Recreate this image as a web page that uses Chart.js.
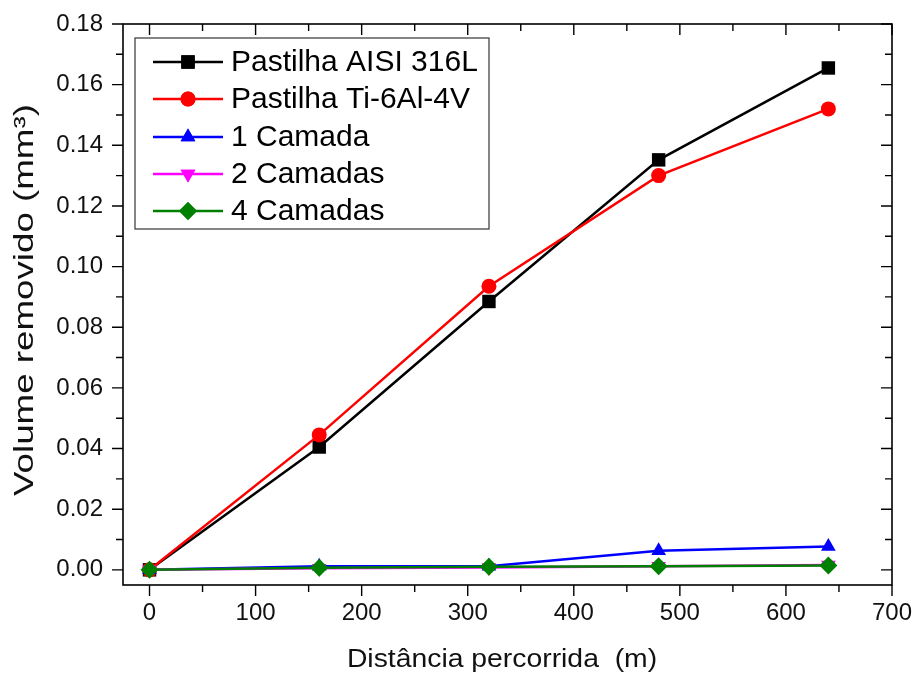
<!DOCTYPE html>
<html><head><meta charset="utf-8">
<script src="https://cdn.jsdelivr.net/npm/chart.js@4.4.1/dist/chart.umd.min.js"></script>
<style>html,body{margin:0;padding:0;background:#fff}#wrap{width:913px;height:677px;position:relative}</style>
</head><body><div id="wrap"><canvas id="c" width="913" height="677"></canvas></div>
<script>
const distances = [0, 160, 320, 480, 640];
const serieAISI = [0, 0.0405, 0.0885, 0.1352, 0.1655];
const serieTi = [0, 0.0445, 0.0935, 0.130, 0.152];
const serie1Camada = [0, 0.0012, 0.0012, 0.0063, 0.0077];
const serie2Camadas = [0, 0.0005, 0.0008, 0.0012, 0.0016];
const serie4Camadas = [0, 0.0007, 0.0010, 0.0012, 0.0014];
const seriesNames = ["Pastilha AISI 316L", "Pastilha Ti-6Al-4V", "1 Camada", "2 Camadas", "4 Camadas"];
const xTicks = [0, 100, 200, 300, 400, 500, 600, 700];
const yTicks = [0, 0.02, 0.04, 0.06, 0.08, 0.10, 0.12, 0.14, 0.16, 0.18];
const xTitle = 'Distância percorrida  (m)';
const yTitle = 'Volume removido (mm³)';

const FONT = "'Liberation Sans', Arial, sans-serif";
function pts(arr){ return distances.map((d,i)=>({x:d, y:arr[i]})); }
function ds(label, data, color, style, radius, rot, order){
  return {label, data: pts(data), borderColor: color, backgroundColor: color,
    pointStyle: style, pointRadius: radius, pointHoverRadius: radius, pointRotation: rot,
    borderWidth: 2.5, pointBorderWidth: 0, tension: 0, order};
}
const datasets = [
  ds(seriesNames[0], serieAISI, '#000000', 'rect', 9.5, 0, 5),
  ds(seriesNames[1], serieTi, '#ff0000', 'circle', 7.5, 0, 4),
  ds(seriesNames[2], serie1Camada, '#0000ff', 'triangle', 8.5, 0, 3),
  ds(seriesNames[3], serie2Camadas, '#ff00ff', 'triangle', 8.5, 180, 2),
  ds(seriesNames[4], serie4Camadas, '#008000', 'rectRot', 9, 0, 1)
];

const framePlugin = {
  id: 'frame',
  afterDraw(chart){
    const ctx = chart.ctx, a = chart.chartArea, xs = chart.scales.x, ys = chart.scales.y;
    ctx.save();
    ctx.strokeStyle = '#000'; ctx.lineWidth = 1.6;
    ctx.strokeRect(a.left, a.top, a.right - a.left, a.bottom - a.top);
    ctx.lineWidth = 1.4;
    ctx.beginPath();
    for (let v = 0; v <= 700; v += 50){
      const px = xs.getPixelForValue(v);
      const L = (v % 100 === 0) ? 11 : 7;
      ctx.moveTo(px, a.bottom); ctx.lineTo(px, a.bottom + L);
      ctx.moveTo(px, a.top); ctx.lineTo(px, a.top + L);
    }
    for (let k = 0; k <= 18; k++){
      const v = k * 0.01;
      const py = ys.getPixelForValue(v);
      const L = (k % 2 === 0) ? 11 : 7;
      ctx.moveTo(a.left, py); ctx.lineTo(a.left - L, py);
      ctx.moveTo(a.right, py); ctx.lineTo(a.right - L, py);
    }
    ctx.stroke();

    // axis titles
    ctx.fillStyle = '#111';
    ctx.textAlign = 'center'; ctx.textBaseline = 'middle';
    ctx.font = '26px ' + FONT;
    ctx.save();
    ctx.translate(502, 660);
    ctx.scale(1.09, 1);
    ctx.fillText(xTitle, 0, 0);
    ctx.restore();
    ctx.save();
    ctx.translate(26, 300);
    ctx.rotate(-Math.PI / 2);
    ctx.scale(1.36, 1);
    ctx.font = '27px ' + FONT;
    ctx.fillText(yTitle, 0, 0);
    ctx.restore();

    // legend
    const bx = 135, by = 38, bw = 354, bh = 191;
    ctx.fillStyle = '#fff';
    ctx.fillRect(bx, by, bw, bh);
    ctx.strokeStyle = '#444'; ctx.lineWidth = 1.3;
    ctx.strokeRect(bx, by, bw, bh);
    const rowY = [62, 99, 137, 174, 211];
    chart.data.datasets.forEach((d, i) => {
      const y = rowY[i];
      ctx.strokeStyle = d.borderColor; ctx.lineWidth = 2.5;
      ctx.beginPath(); ctx.moveTo(153, y); ctx.lineTo(223, y); ctx.stroke();
      ctx.fillStyle = d.backgroundColor;
      Chart.helpers.drawPoint(ctx, {pointStyle: d.pointStyle, radius: d.pointRadius, rotation: d.pointRotation, borderWidth: 0}, 188, y);
      ctx.fill();
      ctx.fillStyle = '#000';
      ctx.font = '30px ' + FONT;
      ctx.textBaseline = 'middle'; ctx.textAlign = 'left';
      ctx.fillText(d.label, 231, y + 1);
    });
    ctx.restore();
  }
};

new Chart(document.getElementById('c'), {
  type: 'line',
  data: { datasets },
  options: {
    responsive: false, animation: false,
    layout: { padding: { top: 24, right: 21, left: 0, bottom: 0 } },
    plugins: { legend: { display: false }, tooltip: { enabled: false } },
    scales: {
      x: {
        type: 'linear', min: -25, max: 700,
        afterBuildTicks(s){ s.ticks = xTicks.map(v => ({value: v})); },
        afterFit(s){ s.height = 92; s.paddingLeft = 0; s.paddingRight = 0; },
        grid: { display: false, drawTicks: false },
        border: { display: false },
        ticks: { padding: 14, color: '#111', font: { family: FONT, size: 24 }, callback: v => String(v), maxRotation: 0 },
        title: { display: false }
      },
      y: {
        type: 'linear', min: -0.005, max: 0.18,
        afterBuildTicks(s){ s.ticks = yTicks.map(v => ({value: v})); },
        afterFit(s){ s.width = 123; s.paddingTop = 0; s.paddingBottom = 0; },
        grid: { display: false, drawTicks: false },
        border: { display: false },
        ticks: { padding: 20, color: '#111', font: { family: FONT, size: 24 }, callback: v => v.toFixed(2) },
        title: { display: false }
      }
    }
  },
  plugins: [framePlugin]
});
</script></body></html>
